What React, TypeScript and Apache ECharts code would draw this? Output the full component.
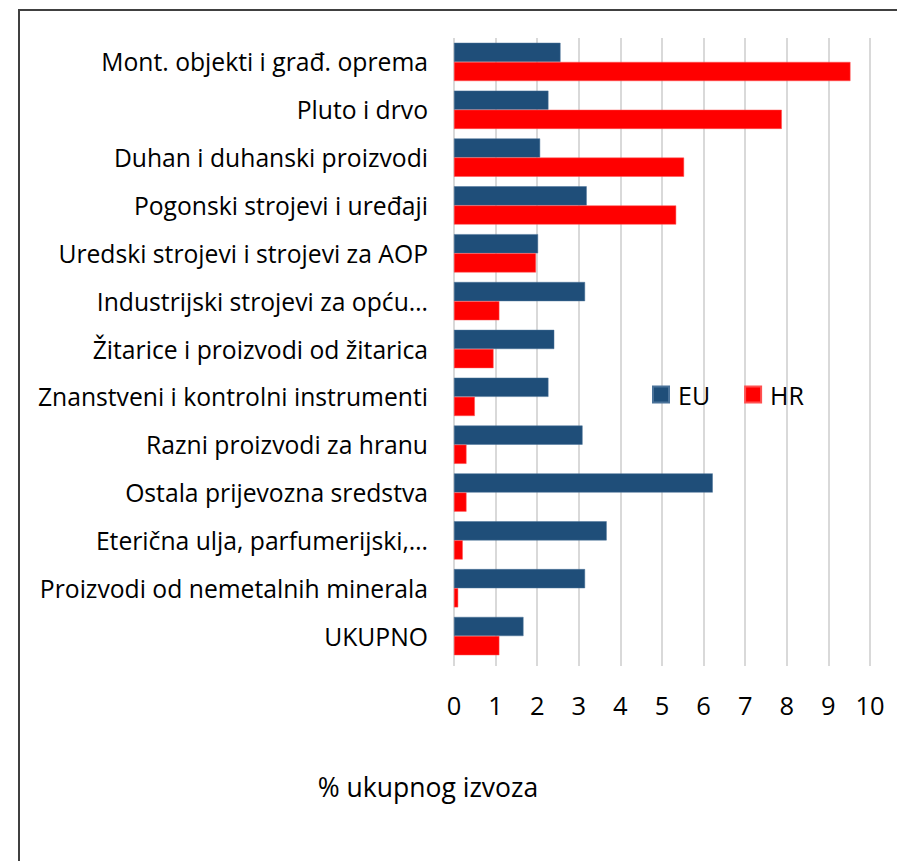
import React, { useEffect, useRef } from "react";
import * as echarts from "echarts";

const categories = [
  "Mont. objekti i građ. oprema",
  "Pluto i drvo",
  "Duhan i duhanski proizvodi",
  "Pogonski strojevi i uređaji",
  "Uredski strojevi i strojevi za AOP",
  "Industrijski strojevi za opću…",
  "Žitarice i proizvodi od žitarica",
  "Znanstveni i kontrolni instrumenti",
  "Razni proizvodi za hranu",
  "Ostala prijevozna sredstva",
  "Eterična ulja, parfumerijski,…",
  "Proizvodi od nemetalnih minerala",
  "UKUPNO",
];
const euValues = [2.56, 2.27, 2.07, 3.19, 2.02, 3.15, 2.41, 2.27, 3.09, 6.22, 3.67, 3.15, 1.67];
const hrValues = [9.53, 7.88, 5.53, 5.34, 1.97, 1.09, 0.95, 0.5, 0.3, 0.3, 0.21, 0.1, 1.09];
const xTicks = [0, 1, 2, 3, 4, 5, 6, 7, 8, 9, 10];
const axisTitle = "% ukupnog izvoza";

const FONT = "Open Sans";

export default function App() {
  const ref = useRef<HTMLDivElement>(null);
  useEffect(() => {
    if (!ref.current) return;
    const chart = echarts.init(ref.current, null, { renderer: "svg" });
    chart.setOption({
      animation: false,
      backgroundColor: "#ffffff",
      textStyle: { fontFamily: FONT },
      grid: { left: 454, right: 27, top: 38, bottom: 201, containLabel: false },
      legend: {
        data: ["EU", "HR"],
        left: 652,
        top: 382,
        padding: 0,
        icon: "rect",
        itemWidth: 16,
        itemHeight: 16,
        itemGap: 34,
        textStyle: { fontSize: 25, color: "#000", fontFamily: FONT, padding: [0, 0, 0, 4] },
      },
      xAxis: {
        type: "value",
        min: xTicks[0],
        max: xTicks[xTicks.length - 1],
        interval: 1,
        axisLine: { show: false },
        axisTick: { show: true, length: 6, lineStyle: { color: "#d9d9d9", width: 2 } },
        splitLine: { show: true, lineStyle: { color: "#d9d9d9", width: 2 } },
        axisLabel: { fontSize: 25.5, color: "#000", margin: 32, fontFamily: FONT },
      },
      yAxis: {
        type: "category",
        data: categories,
        inverse: true,
        axisLine: { show: false },
        axisTick: { show: false },
        axisLabel: { fontSize: 24.7, color: "#000", margin: 26, fontFamily: FONT },
      },
      series: [
        {
          name: "EU",
          type: "bar",
          data: euValues,
          barGap: "0%",
          barCategoryGap: "20%",
          itemStyle: { color: "#1f4e79", borderColor: "#4a7299", borderWidth: 0.5 },
        },
        {
          name: "HR",
          type: "bar",
          data: hrValues,
          barGap: "0%",
          barCategoryGap: "20%",
          itemStyle: { color: "#ff0000", borderColor: "#ff5050", borderWidth: 0.5 },
        },
      ],
      graphic: [
        {
          type: "rect",
          shape: { x: 19, y: 10, width: 1000, height: 1000 },
          style: { fill: "none", stroke: "#404040", lineWidth: 2 },
          silent: true,
        },
        {
          type: "text",
          x: 428,
          y: 787,
          style: {
            text: axisTitle,
            fontSize: 26.5,
            fontFamily: FONT,
            fill: "#000",
            textAlign: "center",
            textVerticalAlign: "middle",
          },
        },
      ],
    });
    return () => chart.dispose();
  }, []);
  return (
    <div
      ref={ref}
      style={{ position: "fixed", left: 0, top: 0, width: 897, height: 861 }}
    />
  );
}
